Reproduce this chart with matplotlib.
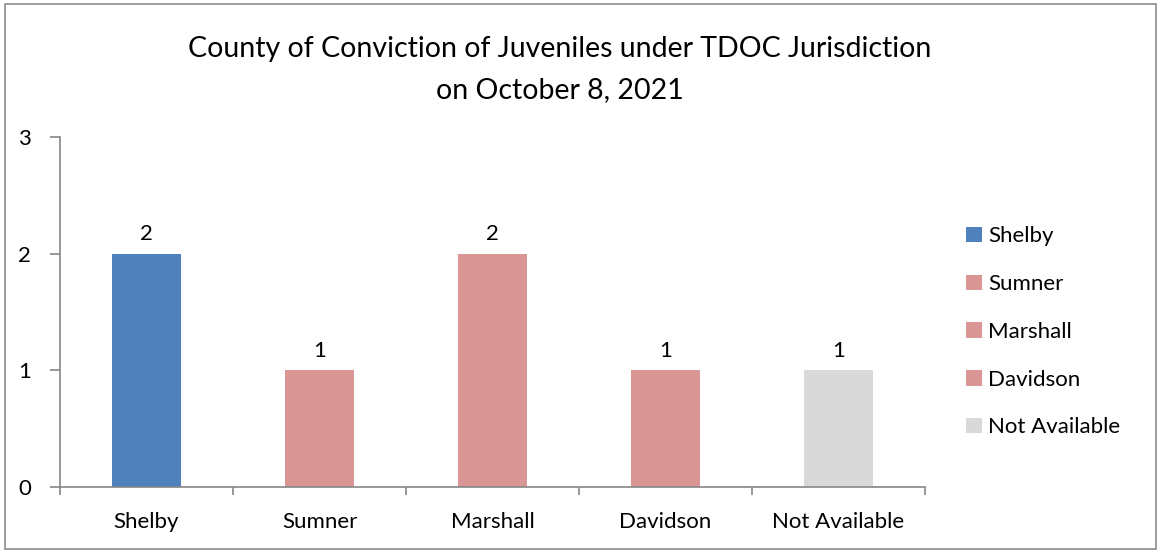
import numpy as np
import matplotlib.pyplot as plt
from matplotlib.patches import Rectangle

counties = ['Shelby', 'Sumner', 'Marshall', 'Davidson', 'Not Available']
counts = [2, 1, 2, 1, 1]
colors = ['#4F81BD', '#D99694', '#D99694', '#D99694', '#D9D9D9']
yticks = [0, 1, 2, 3]

plt.rcParams['font.family'] = ['Lato', 'DejaVu Sans']

fig = plt.figure(figsize=(11.63, 5.53), dpi=100)
# outer chart frame
fig.patches.append(Rectangle((0.004, 0.008), 0.99, 0.985, transform=fig.transFigure,
                             fill=False, edgecolor='#8c8c8c', linewidth=1.2))

ax = fig.add_axes([0.0516, 0.1193, 0.7438, 0.633])
x = np.arange(len(counties))
bars = ax.bar(x, counts, width=0.4, color=colors, label=counties)

for xi, c in zip(x, counts):
    ax.text(xi, c + 0.08, str(c), ha='center', va='bottom', fontsize=16)

ax.set_xlim(-0.5, len(counties) - 0.5)
ax.set_ylim(0, 3)
ax.set_yticks(yticks)
ax.set_xticks(x)
ax.set_xticklabels(counties)
ax.set_xticks(np.arange(-0.5, len(counties), 1), minor=True)
ax.tick_params(axis='x', which='major', length=0, pad=18, labelsize=16)
ax.tick_params(axis='x', which='minor', length=6, color='#868686', width=1.2)
ax.tick_params(axis='y', length=7, color='#868686', width=1.2, pad=14, labelsize=16)
for s in ['top', 'right']:
    ax.spines[s].set_visible(False)
for s in ['left', 'bottom']:
    ax.spines[s].set_color('#868686')
    ax.spines[s].set_linewidth(1.2)

fig.text(0.481, 0.935, 'County of Conviction of Juveniles under TDOC Jurisdiction\non October 8, 2021',
         ha='center', va='top', fontsize=20.5, linespacing=1.7)

ax.legend(loc='upper left', bbox_to_anchor=(1.037, 0.77), frameon=False, fontsize=16,
          handlelength=0.7, handleheight=0.7, handletextpad=0.3, labelspacing=1.25,
          borderaxespad=0)

fig.savefig('out.png', dpi=100)
